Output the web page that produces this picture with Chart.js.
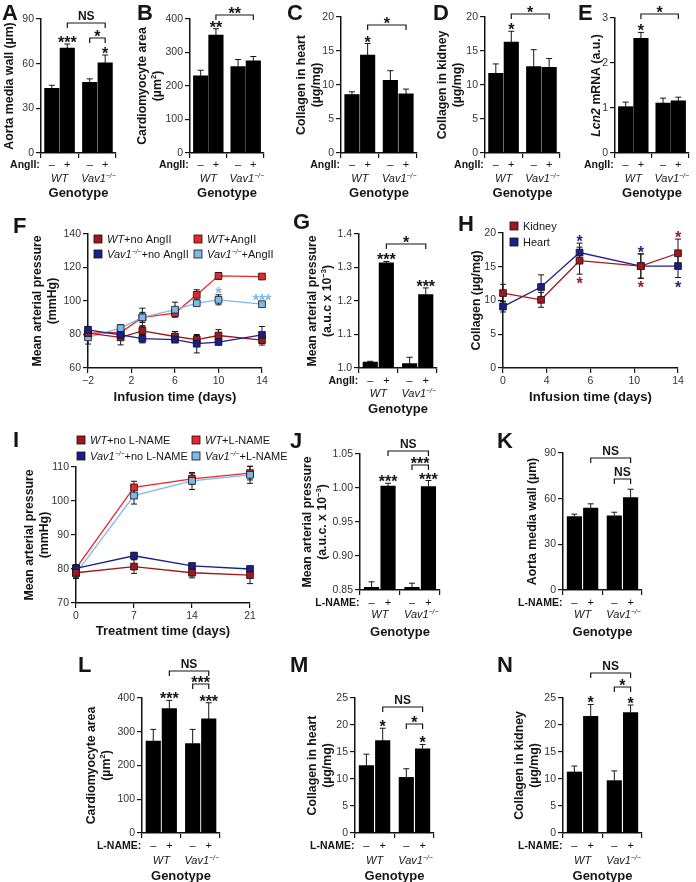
<!DOCTYPE html>
<html>
<head>
<meta charset="utf-8">
<title>Figure</title>
<script src="https://cdn.jsdelivr.net/npm/chart.js@4.4.1/dist/chart.umd.min.js"></script>
<style>
  html, body { margin: 0; padding: 0; background: #fff; }
  #fig { position: relative; width: 696px; height: 882px; overflow: hidden; }
  #fig canvas { position: absolute; left: 0; top: 0; }
</style>
</head>
<body>
<div id="fig"></div>
<script>
// ---------- data ----------
const doseLabels = ['–', '+', '–', '+'];

// A - aorta media wall, AngII
const aTicks = [0, 30, 60, 90];
const aMeans = [43.5, 70.5, 47.5, 60.5];
const aErrs = [2.0, 2.7, 2.3, 5.3];
const aStars = ['', '***', '', '*'];
// B - cardiomyocyte area, AngII
const bTicks = [0, 100, 200, 300, 400];
const bMeans = [230, 352, 258, 275];
const bErrs = [17, 19, 21, 13];
const bStars = ['', '**', '', ''];
// C - collagen heart, AngII
const cTicks = [0, 5, 10, 15, 20];
const cMeans = [8.6, 14.4, 10.7, 8.7];
const cErrs = [0.4, 1.7, 1.4, 0.7];
const cStars = ['', '*', '', ''];
// D - collagen kidney, AngII
const dTicks = [0, 5, 10, 15, 20];
const dMeans = [11.7, 16.3, 12.7, 12.6];
const dErrs = [1.4, 1.6, 2.5, 1.3];
const dStars = ['', '*', '', ''];
// E - Lcn2 mRNA
const eTicks = [0, 1, 2, 3];
const eMeans = [1.03, 2.55, 1.11, 1.16];
const eErrs = [0.1, 0.13, 0.11, 0.08];
const eStars = ['', '*', '', ''];
// F - MAP time course, AngII
const fDays = [-2, 1, 3, 6, 8, 10, 14];
const fTicksX = [-2, 2, 6, 10, 14];
const fTicksY = [60, 80, 100, 120, 140];
const fWtNo = [80.8, 78.3, 82.2, 78.8, 76.9, 79.4, 76.7];
const fWtNoErr = [3, 4.5, 3, 3, 2.5, 3.5, 3];
const fWtAng = [80.8, 81.2, 90.2, 92.8, 103.7, 115.0, 114.6];
const fWtAngErr = [2, 2, 3, 1.5, 3, 2, 1.5];
const fVavNo = [82.8, 79.8, 77.5, 76.9, 74.5, 75.5, 79.8];
const fVavNoErr = [2, 2, 2.5, 1.5, 5.5, 1.5, 5];
const fVavAng = [78.3, 83.8, 90.2, 94.8, 98.7, 100.7, 98.1];
const fVavAngErr = [4, 2, 5.5, 4.5, 1.5, 3, 1.2];
// G - MAP auc, AngII
const gTicks = [1.0, 1.1, 1.2, 1.3, 1.4];
const gMeans = [1.018, 1.314, 1.013, 1.219];
const gErrs = [0.002, 0.004, 0.019, 0.02];
const gStars = ['', '***', '', '***'];
// H - collagen time course (ordinal time axis)
const hTickLabels = ['0', '4', '6', '10', '14'];
const hPos = [0, 0.87, 1.75, 3.15, 4];
const hTicksY = [0, 5, 10, 15, 20];
const hKidney = [11.1, 10.1, 15.9, 15.1, 17.0];
const hKidneyErr = [1.3, 1.1, 2.0, 1.8, 2.1];
const hHeart = [9.1, 12.0, 17.1, 15.1, 15.1];
const hHeartErr = [0.8, 1.8, 1.4, 1.8, 1.7];
// I - MAP time course, L-NAME
const iDays = [0, 7, 14, 21];
const iTicksY = [70, 80, 90, 100, 110];
const iWtNo = [78.9, 80.7, 78.9, 78.2];
const iWtNoErr = [1.3, 2, 1.5, 2.5];
const iWtL = [80.2, 104.0, 106.5, 108.2];
const iWtLErr = [1, 1.8, 1.5, 2];
const iVavNo = [80.2, 83.9, 80.9, 80.0];
const iVavNoErr = [1, 1, 0.7, 0.8];
const iVavL = [78.7, 101.6, 105.9, 107.7];
const iVavLErr = [1.5, 2.5, 2.5, 2.5];
// J - MAP auc, L-NAME
const jTicks = [0.85, 0.90, 0.95, 1.00, 1.05];
const jMeans = [0.854, 1.003, 0.854, 1.002];
const jErrs = [0.008, 0.004, 0.006, 0.009];
const jStars = ['', '***', '', '***'];
// K - aorta media wall, L-NAME
const kTicks = [0, 30, 60, 90];
const kMeans = [48.3, 53.8, 48.8, 60.7];
const kErrs = [1.5, 2.8, 2.3, 5.5];
// L - cardiomyocyte area, L-NAME
const lTicks = [0, 100, 200, 300, 400];
const lMeans = [272, 369, 265, 338];
const lErrs = [35, 24, 42, 48];
const lStars = ['', '***', '', '***'];
// M - collagen heart, L-NAME
const mTicks = [0, 5, 10, 15, 20, 25];
const mMeans = [12.5, 17.1, 10.3, 15.6];
const mErrs = [2.1, 2.3, 1.6, 0.8];
const mStars = ['', '*', '', '*'];
// N - collagen kidney, L-NAME
const nTicks = [0, 5, 10, 15, 20, 25];
const nMeans = [11.3, 21.6, 9.7, 22.3];
const nErrs = [1.1, 2.2, 1.8, 1.4];
const nStars = ['', '*', '', '*'];

// ---------- style ----------
const FAM = "'Liberation Sans', Arial, Helvetica, sans-serif";
const INK = '#151515';
const W = 696, H = 882;
const DARKRED = '#a3171c', RED = '#e9262b', NAVY = '#1b1f8c', LIGHT = '#7fb8ea';
const BAR_POS = [0, 1, 2.45, 3.45];
const BAR_MIN = -0.7, BAR_MAX = 4.15, BAR_SEP = 1.725;
const WT = [{ t: 'WT', i: true }];
const VAV = [{ t: 'Vav1', i: true }, { t: '−/−', i: true, sup: true }];

function fnt(size, bold, italic) {
  return (italic ? 'italic ' : '') + (bold ? 'bold ' : '') + size + 'px ' + FAM;
}

// draws a run of text pieces (plain / italic / superscript)
function rich(ctx, x, y, segs, size, bold, align) {
  const parts = segs.map(s => (typeof s === 'string' ? { t: s } : s));
  const widths = parts.map(s => {
    ctx.font = fnt(s.sup ? size * 0.62 : size, bold, s.i);
    return ctx.measureText(s.t).width;
  });
  const total = widths.reduce((m, w) => m + w, 0);
  let cx = align === 'center' ? x - total / 2 : align === 'right' ? x - total : x;
  ctx.textAlign = 'left';
  parts.forEach((s, k) => {
    ctx.font = fnt(s.sup ? size * 0.62 : size, bold, s.i);
    ctx.fillText(s.t, cx, s.sup ? y - size * 0.36 : y);
    cx += widths[k];
  });
}

function fmt(v, dec) {
  return Number(v).toFixed(dec).replace('-', '−');
}

function makeCanvas() {
  const cv = document.createElement('canvas');
  cv.width = W; cv.height = H;
  document.getElementById('fig').appendChild(cv);
  return cv;
}

function yScale(ticks, dec) {
  return {
    min: ticks[0], max: ticks[ticks.length - 1], beginAtZero: false,
    afterBuildTicks: s => { s.ticks = ticks.map(v => ({ value: v })); },
    afterFit: s => { s.width = 40; },
    ticks: { font: { family: FAM, size: 10.5 }, color: '#333', padding: 2, callback: v => fmt(v, dec) },
    grid: { drawOnChartArea: false, tickLength: 5, color: INK, lineWidth: 1.2 },
    border: { color: INK, width: 1.5 }
  };
}

// error bars (up only for bars, both ways for lines)
const errPlugin = {
  id: 'errs',
  beforeDatasetsDraw(chart) {
    const { ctx } = chart;
    const xs = chart.scales.x, ys = chart.scales.y;
    ctx.save();
    ctx.strokeStyle = INK;
    ctx.lineWidth = 1;
    chart.data.datasets.forEach(ds => {
      if (!ds.errs) return;
      ds.data.forEach((pt, i) => {
        const e = ds.errs[i];
        if (!e) return;
        const x = xs.getPixelForValue(pt.x);
        const yTop = ys.getPixelForValue(pt.y + e);
        const yBot = ys.getPixelForValue(ds.errBoth ? pt.y - e : pt.y);
        ctx.beginPath();
        ctx.moveTo(x, yBot); ctx.lineTo(x, yTop);
        ctx.moveTo(x - 3, yTop); ctx.lineTo(x + 3, yTop);
        if (ds.errBoth) { ctx.moveTo(x - 3, yBot); ctx.lineTo(x + 3, yBot); }
        ctx.stroke();
      });
    });
    ctx.restore();
  }
};

function drawStar(ctx, x, yPx, t, color, below) {
  ctx.fillStyle = color || INK;
  ctx.font = fnt(16, true);
  ctx.textAlign = 'center';
  ctx.textBaseline = 'alphabetic';
  ctx.fillText(t, x, below ? yPx + 15 : yPx + 4);
}

function drawBracket(ctx, x1, x2, y, t) {
  ctx.strokeStyle = INK;
  ctx.lineWidth = 1.2;
  ctx.beginPath();
  ctx.moveTo(x1, y + 5); ctx.lineTo(x1, y); ctx.lineTo(x2, y); ctx.lineTo(x2, y + 5);
  ctx.stroke();
  ctx.fillStyle = INK;
  ctx.textAlign = 'center';
  ctx.textBaseline = 'alphabetic';
  if (t === 'NS') { ctx.font = fnt(12, true); ctx.fillText(t, (x1 + x2) / 2, y - 3); }
  else { ctx.font = fnt(16, true); ctx.fillText(t, (x1 + x2) / 2, y + 4); }
}

function decoPlugin(p) {
  return {
    id: 'deco' + p.letter,
    afterDraw(chart) {
      const ctx = chart.ctx, a = chart.chartArea;
      const xs = chart.scales.x, ys = chart.scales.y;
      ctx.save();
      ctx.fillStyle = INK;
      ctx.textBaseline = 'alphabetic';
      // panel letter
      ctx.font = fnt(22, true);
      ctx.textAlign = 'left';
      ctx.fillText(p.letter, p.lx, p.ly);
      // y title
      const cy = (a.top + a.bottom) / 2;
      p.yTitle.forEach((segs, k) => {
        ctx.save();
        ctx.translate(p.titleX + k * 15, cy);
        ctx.rotate(-Math.PI / 2);
        ctx.textBaseline = 'middle';
        ctx.fillStyle = INK;
        rich(ctx, 0, 0, segs, 12.3, true, 'center');
        ctx.restore();
      });
      ctx.textBaseline = 'alphabetic';
      if (p.means) {
        const cx = BAR_POS.map(v => xs.getPixelForValue(v));
        const o = p.rowOff || [15, 29, 44];
        ctx.fillStyle = INK;
        ctx.font = fnt(10.5, true);
        ctx.textAlign = 'right';
        ctx.fillText(p.treat, cx[0] - 12, a.bottom + o[0]);
        ctx.font = fnt(11);
        ctx.textAlign = 'center';
        doseLabels.forEach((s, i) => ctx.fillText(s, cx[i], a.bottom + o[0]));
        rich(ctx, (cx[0] + cx[1]) / 2, a.bottom + o[1], WT, 11, false, 'center');
        rich(ctx, (cx[2] + cx[3]) / 2 + 1, a.bottom + o[1], VAV, 11, false, 'center');
        ctx.font = fnt(13, true);
        ctx.textAlign = 'center';
        ctx.fillText('Genotype', (cx[0] + cx[3]) / 2, a.bottom + o[2]);
        (p.stars || []).forEach((s, i) => {
          if (s) drawStar(ctx, cx[i], ys.getPixelForValue(p.means[i] + p.errs[i]), s);
        });
        (p.brackets || []).forEach(br => drawBracket(ctx, cx[br.i], cx[br.j], br.y, br.t));
      }
      if (p.series) {
        (p.legend || []).forEach(it => {
          const s = p.series[it.s];
          ctx.fillStyle = s.color;
          ctx.fillRect(it.x, it.y - 4, 8, 8);
          ctx.strokeStyle = '#111';
          ctx.lineWidth = 0.8;
          ctx.strokeRect(it.x, it.y - 4, 8, 8);
          ctx.fillStyle = INK;
          rich(ctx, it.x + 13, it.y + 4, s.label, 11, false, 'left');
        });
        (p.sig || []).forEach(g => {
          const s = p.series[g.s];
          const x = xs.getPixelForValue(p.x[g.i]);
          const v = g.below ? s.vals[g.i] - s.errs[g.i] : s.vals[g.i] + s.errs[g.i];
          drawStar(ctx, x, ys.getPixelForValue(v), g.t, s.color, g.below);
        });
      }
      ctx.restore();
    }
  };
}

function barPanel(p) {
  const xH = 8;
  new Chart(makeCanvas(), {
    type: 'bar',
    data: {
      datasets: [{
        data: p.means.map((v, i) => ({ x: BAR_POS[i], y: v })),
        errs: p.errs,
        backgroundColor: '#000',
        borderWidth: 0,
        barThickness: 14.5
      }]
    },
    options: {
      responsive: false, animation: false, events: [],
      layout: { padding: { left: p.l - 40, right: W - p.r, top: p.t, bottom: H - p.b - xH } },
      plugins: { legend: { display: false }, tooltip: { enabled: false } },
      scales: {
        x: {
          type: 'linear', min: BAR_MIN, max: BAR_MAX, offset: false,
          afterBuildTicks: s => { s.ticks = [BAR_MIN, BAR_SEP, BAR_MAX].map(v => ({ value: v })); },
          afterFit: s => { s.height = xH; },
          ticks: { display: false },
          grid: { drawOnChartArea: false, offset: false, tickLength: 5, color: INK, lineWidth: 1.2 },
          border: { color: INK, width: 1.5 }
        },
        y: yScale(p.ticks, p.dec || 0)
      }
    },
    plugins: [errPlugin, decoPlugin(p)]
  });
}

function linePanel(p) {
  new Chart(makeCanvas(), {
    type: 'line',
    data: {
      datasets: p.series.map(s => ({
        data: p.x.map((xv, i) => ({ x: xv, y: s.vals[i] })),
        errs: s.errs, errBoth: true,
        borderColor: s.color, backgroundColor: s.color,
        borderWidth: 1.3, pointStyle: 'rect', pointRadius: 4.8,
        pointBorderColor: '#111', pointBorderWidth: 0.8,
        fill: false, tension: 0, clip: false
      }))
    },
    options: {
      responsive: false, animation: false, events: [],
      layout: { padding: { left: p.l - 40, right: W - p.r, top: p.t, bottom: H - p.b - p.xH } },
      plugins: { legend: { display: false }, tooltip: { enabled: false } },
      scales: {
        x: {
          type: 'linear', min: p.xTicks[0], max: p.xTicks[p.xTicks.length - 1],
          afterBuildTicks: s => { s.ticks = p.xTicks.map(v => ({ value: v })); },
          afterFit: s => { s.height = p.xH; },
          ticks: {
            font: { family: FAM, size: 10.5 }, color: '#333', padding: 2, maxRotation: 0, autoSkip: false,
            callback: (v, i) => (p.xTickLabels ? p.xTickLabels[i] : fmt(v, 0))
          },
          grid: { drawOnChartArea: false, tickLength: 5, color: INK, lineWidth: 1.2 },
          border: { color: INK, width: 1.5 },
          title: { display: true, text: p.xTitle, color: INK, padding: 0, font: { family: FAM, size: 13, weight: 'bold' } }
        },
        y: yScale(p.yTicks, 0)
      }
    },
    plugins: [errPlugin, decoPlugin(p)]
  });
}

const MAP = [['Mean arterial pressure'], ['(mmHg)']];
const CARDIO = [['Cardiomyocyte area'], ['(µm', { t: '2', sup: true }, ')']];

// ---------- row 1 ----------
barPanel({ letter: 'A', lx: 2, ly: 20, l: 41, r: 116, t: 19, b: 153, titleX: 10,
  yTitle: [['Aorta media wall (µm)']], ticks: aTicks, means: aMeans, errs: aErrs, stars: aStars, treat: 'AngII:',
  brackets: [{ i: 1, j: 3, y: 23, t: 'NS' }, { i: 2, j: 3, y: 38, t: '*' }] });
barPanel({ letter: 'B', lx: 137, ly: 20, l: 190, r: 264, t: 19, b: 153, titleX: 143,
  yTitle: CARDIO, ticks: bTicks, means: bMeans, errs: bErrs, stars: bStars, treat: 'AngII:',
  brackets: [{ i: 1, j: 3, y: 15, t: '**' }] });
barPanel({ letter: 'C', lx: 287, ly: 20, l: 341, r: 417, t: 17, b: 153, titleX: 302,
  yTitle: [['Collagen in heart'], ['(µg/mg)']], ticks: cTicks, means: cMeans, errs: cErrs, stars: cStars, treat: 'AngII:',
  brackets: [{ i: 1, j: 3, y: 25, t: '*' }] });
barPanel({ letter: 'D', lx: 433, ly: 20, l: 485, r: 560, t: 17, b: 153, titleX: 443,
  yTitle: [['Collagen in kidney'], ['(µg/mg)']], ticks: dTicks, means: dMeans, errs: dErrs, stars: dStars, treat: 'AngII:',
  brackets: [{ i: 1, j: 3, y: 14, t: '*' }] });
barPanel({ letter: 'E', lx: 578, ly: 20, l: 615, r: 689, t: 18, b: 153, titleX: 597,
  yTitle: [[{ t: 'Lcn2', i: true }, ' mRNA (a.u.)']], ticks: eTicks, means: eMeans, errs: eErrs, stars: eStars, treat: 'AngII:',
  brackets: [{ i: 1, j: 3, y: 14, t: '*' }] });

// ---------- row 2 ----------
linePanel({ letter: 'F', lx: 13, ly: 233, l: 88, r: 262, t: 234, b: 368, titleX: 38, yTitle: MAP,
  x: fDays, xTicks: fTicksX, yTicks: fTicksY, xTitle: 'Infusion time (days)', xH: 36.8,
  series: [
    { vals: fVavNo, errs: fVavNoErr, color: NAVY, label: [...VAV, '+no AngII'] },
    { vals: fWtNo, errs: fWtNoErr, color: DARKRED, label: [...WT, '+no AngII'] },
    { vals: fVavAng, errs: fVavAngErr, color: LIGHT, label: [...VAV, '+AngII'] },
    { vals: fWtAng, errs: fWtAngErr, color: RED, label: [...WT, '+AngII'] }
  ],
  legend: [{ s: 1, x: 94, y: 239 }, { s: 3, x: 194, y: 239 }, { s: 0, x: 94, y: 254 }, { s: 2, x: 194, y: 254 }],
  sig: [{ s: 2, i: 5, t: '*' }, { s: 2, i: 6, t: '***' }] });
barPanel({ letter: 'G', lx: 293, ly: 229, l: 359, r: 437, t: 234, b: 368, titleX: 313,
  yTitle: [['Mean arterial pressure'], ['(a.u.c x 10', { t: '−3', sup: true }, ')']], ticks: gTicks, dec: 1,
  means: gMeans, errs: gErrs, stars: gStars, treat: 'AngII:', rowOff: [16, 29, 45],
  brackets: [{ i: 1, j: 3, y: 244, t: '*' }] });
linePanel({ letter: 'H', lx: 458, ly: 231, l: 503, r: 678, t: 233, b: 368, titleX: 477, yTitle: [['Collagen (µg/mg)']],
  x: hPos, xTicks: [0, 1, 2, 3, 4], xTickLabels: hTickLabels, yTicks: hTicksY, xTitle: 'Infusion time (days)', xH: 36.8,
  series: [
    { vals: hKidney, errs: hKidneyErr, color: DARKRED, label: ['Kidney'] },
    { vals: hHeart, errs: hHeartErr, color: NAVY, label: ['Heart'] }
  ],
  legend: [{ s: 0, x: 510, y: 226 }, { s: 1, x: 510, y: 242 }],
  sig: [{ s: 1, i: 2, t: '*' }, { s: 1, i: 3, t: '*' }, { s: 1, i: 4, t: '*', below: true },
        { s: 0, i: 2, t: '*', below: true }, { s: 0, i: 3, t: '*', below: true }, { s: 0, i: 4, t: '*' }] });

// ---------- row 3 ----------
linePanel({ letter: 'I', lx: 13, ly: 447, l: 76, r: 250, t: 467, b: 603, titleX: 30, yTitle: MAP,
  x: iDays, xTicks: iDays, yTicks: iTicksY, xTitle: 'Treatment time (days)', xH: 35.8,
  series: [
    { vals: iWtNo, errs: iWtNoErr, color: DARKRED, label: [...WT, '+no L-NAME'] },
    { vals: iVavNo, errs: iVavNoErr, color: NAVY, label: [...VAV, '+no L-NAME'] },
    { vals: iVavL, errs: iVavLErr, color: LIGHT, label: [...VAV, '+L-NAME'] },
    { vals: iWtL, errs: iWtLErr, color: RED, label: [...WT, '+L-NAME'] }
  ],
  legend: [{ s: 0, x: 77, y: 440 }, { s: 3, x: 192, y: 440 }, { s: 1, x: 77, y: 456 }, { s: 2, x: 192, y: 456 }] });
barPanel({ letter: 'J', lx: 290, ly: 448, l: 360, r: 440, t: 454, b: 590, titleX: 308,
  yTitle: [['Mean arterial pressure'], ['(a.u.c. x 10', { t: '−3', sup: true }, ')']], ticks: jTicks, dec: 2,
  means: jMeans, errs: jErrs, stars: jStars, treat: 'L-NAME:', rowOff: [16, 28, 46],
  brackets: [{ i: 1, j: 3, y: 451, t: 'NS' }, { i: 2, j: 3, y: 465, t: '***' }] });
barPanel({ letter: 'K', lx: 497, ly: 448, l: 563, r: 642, t: 453, b: 590, titleX: 533,
  yTitle: [['Aorta media wall (µm)']], ticks: kTicks, means: kMeans, errs: kErrs, treat: 'L-NAME:', rowOff: [16, 28, 46],
  brackets: [{ i: 1, j: 3, y: 458, t: 'NS' }, { i: 2, j: 3, y: 479, t: 'NS' }] });

// ---------- row 4 ----------
barPanel({ letter: 'L', lx: 78, ly: 672, l: 142, r: 220, t: 698, b: 833, titleX: 92,
  yTitle: CARDIO, ticks: lTicks, means: lMeans, errs: lErrs, stars: lStars, treat: 'L-NAME:', rowOff: [16, 31, 47],
  brackets: [{ i: 1, j: 3, y: 671, t: 'NS' }, { i: 2, j: 3, y: 684, t: '***' }] });
barPanel({ letter: 'M', lx: 290, ly: 672, l: 355, r: 434, t: 698, b: 833, titleX: 313,
  yTitle: [['Collagen in heart'], ['(µg/mg)']], ticks: mTicks, means: mMeans, errs: mErrs, stars: mStars, treat: 'L-NAME:', rowOff: [16, 31, 47],
  brackets: [{ i: 1, j: 3, y: 707, t: 'NS' }, { i: 2, j: 3, y: 724, t: '*' }] });
barPanel({ letter: 'N', lx: 497, ly: 672, l: 563, r: 642, t: 698, b: 833, titleX: 520,
  yTitle: [['Collagen in kidney'], ['(µg/mg)']], ticks: nTicks, means: nMeans, errs: nErrs, stars: nStars, treat: 'L-NAME:', rowOff: [16, 31, 47],
  brackets: [{ i: 1, j: 3, y: 673, t: 'NS' }, { i: 2, j: 3, y: 687, t: '*' }] });
</script>
</body>
</html>
